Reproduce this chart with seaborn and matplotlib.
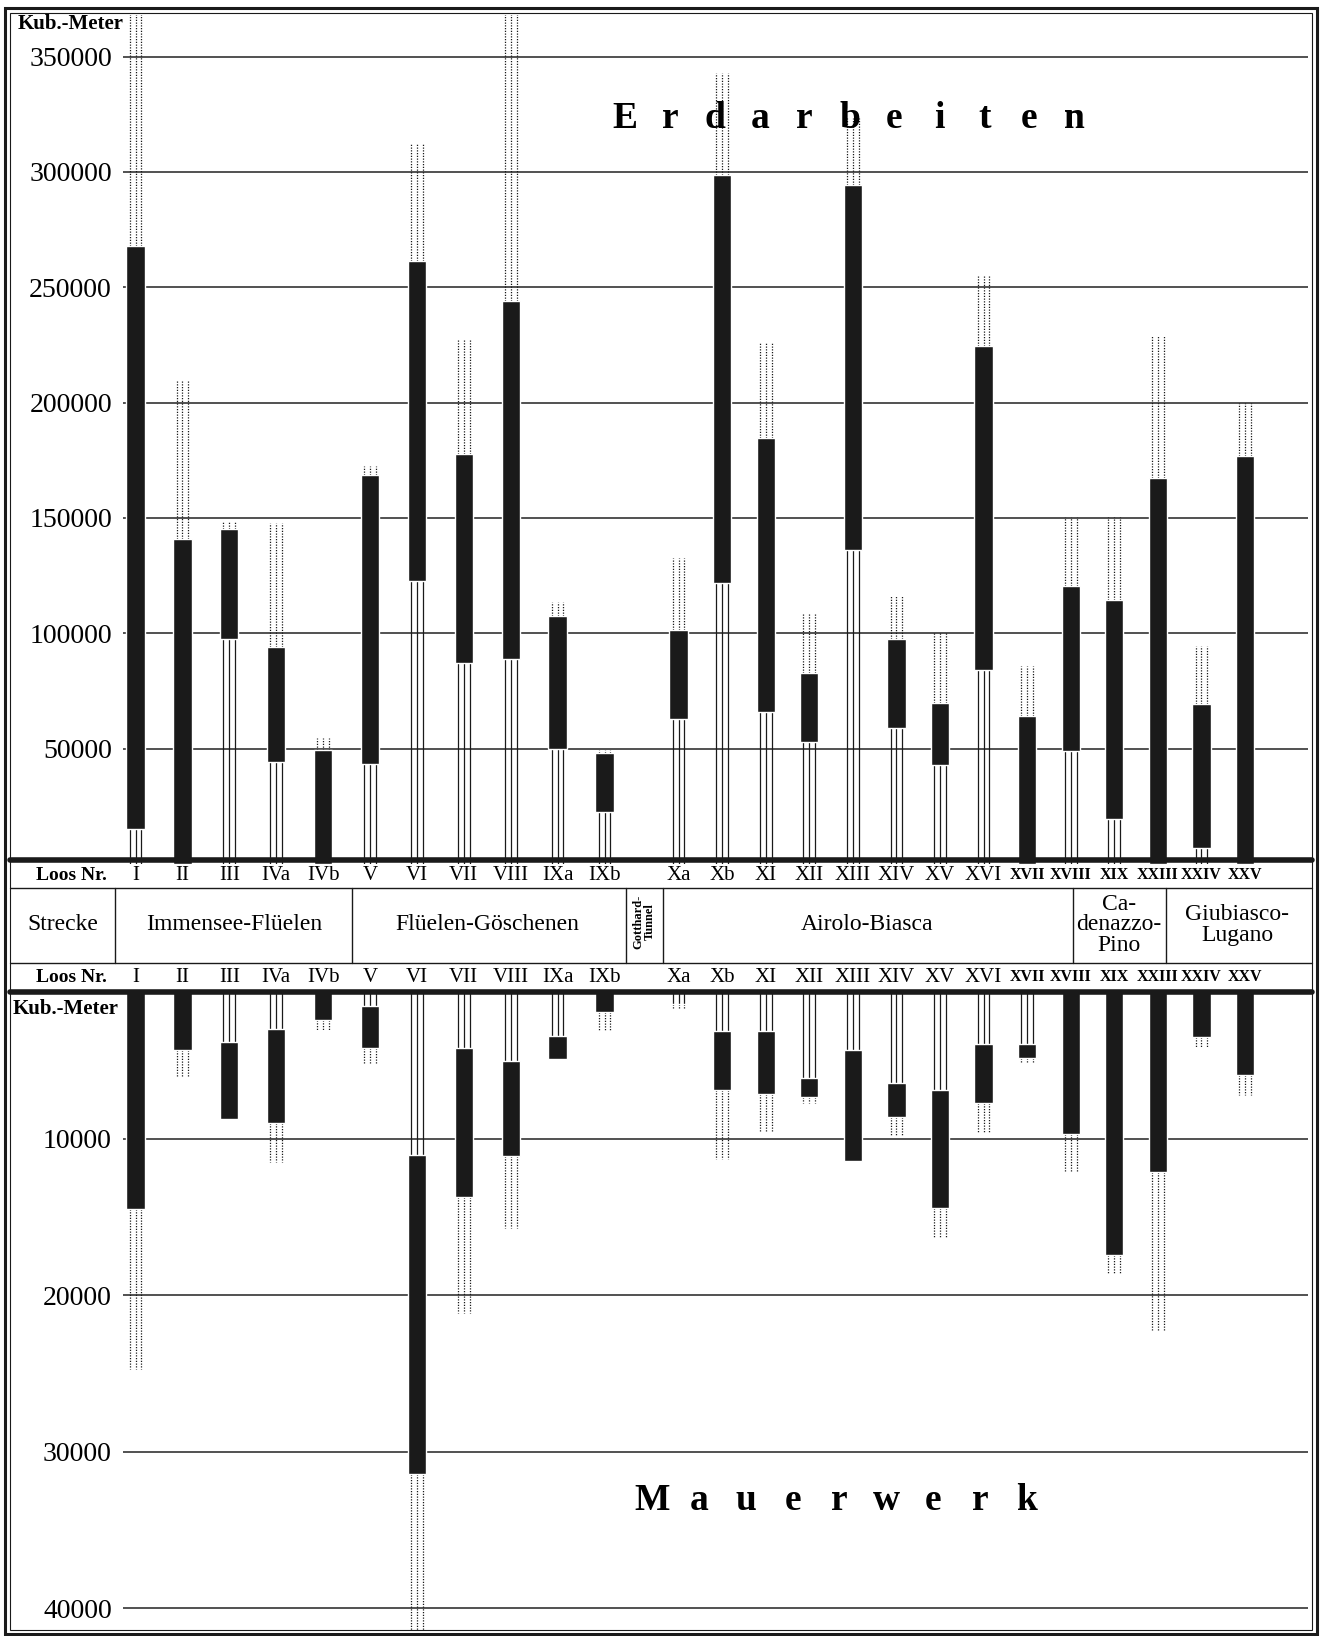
import numpy as np
import matplotlib
matplotlib.use("Agg")
import matplotlib.pyplot as plt
from matplotlib.lines import Line2D
from matplotlib.patches import Rectangle
import seaborn as sns

# Lots (Loos Nr.)
lots = ["I", "II", "III", "IVa", "IVb", "V", "VI", "VII", "VIII", "IXa", "IXb",
        "Xa", "Xb", "XI", "XII", "XIII", "XIV", "XV", "XVI", "XVII", "XVIII",
        "XIX", "XXIII", "XXIV", "XXV"]

# Erdarbeiten (Kub.-Meter): start of black bar, end of black bar, end of dotted part
erd_low = [15000, 0, 97500, 44000, 0, 43500, 122500, 87000, 89000, 50000, 22500,
           63000, 122000, 66000, 53000, 136000, 59000, 43000, 84000, 0, 49000,
           19500, 0, 7000, 0]
erd_high = [268000, 141000, 145000, 94000, 49500, 168500, 261500, 177500, 244000, 107500, 48000,
            101500, 298500, 184500, 83000, 294500, 97500, 70000, 224500, 64000, 120500,
            114500, 167500, 69500, 177000]
erd_max = [370000, 210000, 148500, 148000, 54500, 172500, 312000, 227500, 370000, 113500, 49500,
           132500, 343000, 226000, 108500, 323500, 116500, 100000, 255500, 86000, 150500,
           150500, 229500, 94500, 200000]

# Mauerwerk (Kub.-Meter)
mau_low = [0, 0, 3800, 3000, 0, 1500, 11000, 4200, 5000, 3400, 0,
           1400, 3100, 3100, 6100, 4300, 6400, 6900, 3900, 3900, 0,
           0, 0, 0, 0]
mau_high = [14500, 4300, 8700, 9000, 2400, 4200, 31400, 13700, 11100, 4900, 1900,
            1400, 6900, 7100, 7300, 11400, 8600, 14400, 7700, 4800, 9700,
            17400, 12100, 3500, 5900]
mau_max = [24700, 6000, 8700, 11500, 3100, 5200, 41400, 21100, 15700, 4900, 3100,
           1700, 11300, 9500, 7700, 11400, 9800, 16300, 9600, 5100, 12100,
           18600, 22200, 4100, 7200]

erd_ticks = [50000, 100000, 150000, 200000, 250000, 300000, 350000]
mau_ticks = [10000, 20000, 30000, 40000]

# Strecke groups
strecken = ["Immensee-Flüelen", "Flüelen-Göschenen", "Airolo-Biasca",
            "Ca-\ndenazzo-\nPino", "Giubiasco-\nLugano"]

sns.set_theme(style="white")
plt.rcParams['font.family'] = ['Liberation Serif', 'DejaVu Serif']
plt.rcParams['text.color'] = 'black'
plt.rcParams['ytick.color'] = 'black'

W, H = 1324, 1636
fig = plt.figure(figsize=(W / 100, H / 100), dpi=100)


def fx(px):
    return px / W


def fy(py):
    return 1 - py / H


# lot positions: one step per lot, with a gap for the Gotthard tunnel column
pos = np.array([i if i < 11 else 11.58 + (i - 11) * 0.929 for i in range(len(lots))])
unit = 46.9   # px per step
x0 = 135.5    # px of lot I
left_px, right_px = 123, 1308
xlim = ((left_px - x0) / unit, (right_px - x0) / unit)


def draw_lots(ax, low, high, top):
    low, high, top = map(np.asarray, (low, high, top))
    for dx in (-0.125, 0, 0.125):
        ax.vlines(pos + dx, 0, low, color='k', lw=0.9, zorder=2)
        ax.vlines(pos + dx, high, top, color='k', lw=0.9,
                  linestyles=[(0, (1, 1.2))], zorder=2)
    ax.bar(pos, high - low, bottom=low, width=0.39, color='k', zorder=3)


def style_axis(ax, ticks):
    ax.set_xlim(*xlim)
    ax.set_xticks([])
    ax.set_yticks(ticks)
    ax.set_yticklabels([str(t) for t in ticks])
    ax.grid(axis='y', color='#222222', lw=1.1)
    ax.set_axisbelow(True)
    ax.tick_params(axis='y', length=0, pad=8, labelsize=20, labelcolor='black')
    ax.patch.set_alpha(0)
    sns.despine(ax=ax, left=True, bottom=True, top=True, right=True)


# Erdarbeiten panel
ax_top = fig.add_axes([fx(left_px), fy(864), (right_px - left_px) / W, (864 - 15) / H])
draw_lots(ax_top, erd_low, erd_high, erd_max)
ax_top.set_ylim(0, 368000)
style_axis(ax_top, erd_ticks)

# Mauerwerk panel (downwards)
ax_bot = fig.add_axes([fx(left_px), fy(1630), (right_px - left_px) / W, (1630 - 990.4) / H])
draw_lots(ax_bot, mau_low, mau_high, mau_max)
ax_bot.set_ylim(41400, 500)
style_axis(ax_bot, mau_ticks)


# table rules
def hline(py, x1, x2, lw):
    fig.add_artist(Line2D([fx(x1), fx(x2)], [fy(py), fy(py)], color='k', lw=lw))


def vline(px, y1, y2, lw):
    fig.add_artist(Line2D([fx(px), fx(px)], [fy(y1), fy(y2)], color='k', lw=lw))


hline(860, 10, 1312, 4.0)
hline(992, 10, 1312, 4.0)
hline(888, 10, 1312, 1.0)
hline(963, 10, 1312, 1.0)
for px in (115, 352, 625.5, 663, 1073, 1166):
    vline(px, 888, 963, 1.0)

# frame
fig.add_artist(Rectangle((fx(5), fy(1634)), (1317 - 5) / W, (1634 - 8) / H,
                         fill=False, ec='k', lw=2.2))
fig.add_artist(Rectangle((fx(10), fy(1630)), (1312 - 10) / W, (1630 - 13) / H,
                         fill=False, ec='k', lw=0.8))

# lot labels (two rows); the last lots are set in a tighter bold face
for i, lab in enumerate(lots):
    xp = x0 + pos[i] * unit
    if i >= 19:
        kw = dict(fontsize=11.5, weight='bold')
    else:
        kw = dict(fontsize=15)
    for yp in (875, 977):
        fig.text(fx(xp), fy(yp), lab, ha='center', va='center', **kw)

for yp in (875, 977):
    fig.text(fx(71), fy(yp), "Loos Nr.", ha='center', va='center', fontsize=14, weight='bold')

fig.text(fx(71), fy(24), "Kub.-Meter", ha='center', va='center', fontsize=15, weight='bold')
fig.text(fx(66), fy(1009), "Kub.-Meter", ha='center', va='center', fontsize=15, weight='bold')

# Strecke row
fig.text(fx(63), fy(925), "Strecke", ha='center', va='center', fontsize=17)
centres = [234, 487, 867, 1119, 1237]
for lab, cx in zip(strecken, centres):
    fig.text(fx(cx), fy(925), lab, ha='center', va='center', fontsize=17, linespacing=0.95)
fig.text(fx(644), fy(922), "Gotthard-\nTunnel", ha='center', va='center', fontsize=9,
         weight='bold', rotation=90, linespacing=0.9)

# panel titles, letter spaced
for ch, xp in zip("Erdarbeiten", np.linspace(625, 1074, 11)):
    fig.text(fx(xp), fy(118), ch, ha='center', va='center', fontsize=27, weight='bold')
for ch, xp in zip("Mauerwerk", np.linspace(652, 1027, 9)):
    fig.text(fx(xp), fy(1500), ch, ha='center', va='center', fontsize=27, weight='bold')

fig.savefig("out.png", dpi=100, facecolor='white')
